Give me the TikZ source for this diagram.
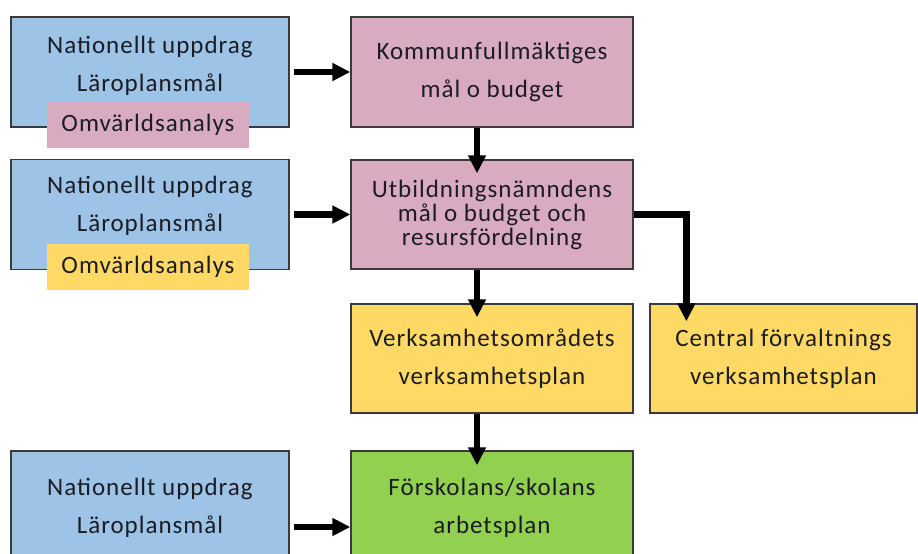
\documentclass[tikz,border=0pt]{standalone}
\usepackage{fontspec}
\setmainfont{Carlito}[LetterSpace=4]
\usetikzlibrary{arrows.meta}
\definecolor{boxblue}{HTML}{9DC3E6}
\definecolor{boxpink}{HTML}{D9ABC1}
\definecolor{boxyellow}{HTML}{FFD966}
\definecolor{boxgreen}{HTML}{92D050}
\definecolor{boxline}{HTML}{3A3A3A}
\definecolor{txt}{HTML}{1C1C24}
\begin{document}
\begin{tikzpicture}[x=1pt,y=-1pt,
  box/.style={draw=boxline, line width=1.3pt, inner sep=0pt, align=center,
    text=txt, minimum height=110pt, font=\fontsize{25}{38}\selectfont},
  wide/.style={box, minimum width=282pt},
  narrow/.style={box, minimum width=278pt},
  boxtext/.style={inner sep=0pt, align=center, text=txt, font=\fontsize{25}{38}\selectfont},
  tag/.style={inner sep=0pt, text=txt, minimum width=202pt, minimum height=46pt,
    font=\fontsize{25}{28}\selectfont},
  flow/.style={line width=6.5pt, -{Triangle[length=18pt,width=17pt]}}]
\useasboundingbox (0,0) rectangle (918,554);
\clip (0,0) rectangle (918,554);

% left column: national assignment
\node[narrow, fill=boxblue] (n1) at (150,72) {};
\node[boxtext] (n1t) at (150,66) {Nationellt uppdrag\\Läroplansmål};
\node[tag, fill=boxpink] (o1) at (148,125) {Omvärldsanalys};

\node[narrow, fill=boxblue] (n2) at (150,214.5) {};
\node[boxtext] (n2t) at (150,206) {Nationellt uppdrag\\Läroplansmål};
\node[tag, fill=boxyellow] (o2) at (148,266.5) {Omvärldsanalys};

\node[narrow, fill=boxblue] (n3) at (150,506) {};
\node[boxtext] (n3t) at (150,508) {Nationellt uppdrag\\Läroplansmål};

% middle column: decision chain
\node[wide, fill=boxpink] (km) at (492,72) {Kommunfullmäktiges\\mål o budget};
\node[wide, fill=boxpink, minimum height=109pt,
  font=\fontsize{25}{24}\selectfont] (un) at (492,214.5)
  {Utbildningsnämndens\\mål o budget och\\resursfördelning};
\node[wide, fill=boxyellow, minimum height=109pt] (vo) at (492,358.5)
  {Verksamhetsområdets\\verksamhetsplan};
\node[wide, fill=boxgreen] (fs) at (492,506) {};
\node[boxtext] (fst) at (492,508) {Förskolans/skolans\\arbetsplan};

% right column
\node[box, fill=boxyellow, minimum width=267pt, minimum height=109pt] (cf) at (783.5,358.5)
  {Central förvaltnings\\verksamhetsplan};

% connectors
\draw[flow, shorten <=4pt] (n1.east) -- (km.west);
\draw[flow, shorten <=4pt] (n2.east) -- (un.west);
\draw[flow, shorten <=4pt] ([yshift=-21pt]n3.east) -- ([yshift=-21pt]fs.west);
\draw[flow, shorten >=-14pt] ([xshift=-15pt]km.south) -- ([xshift=-15pt]un.north);
\draw[flow, shorten >=-14pt] ([xshift=-15pt]un.south) -- ([xshift=-15pt]vo.north);
\draw[flow, shorten >=-15pt] ([xshift=-15pt]vo.south) -- ([xshift=-15pt]fs.north);
\draw[flow, shorten >=-18pt] (un.east) -| ([xshift=37pt]cf.north west);
\end{tikzpicture}
\end{document}
